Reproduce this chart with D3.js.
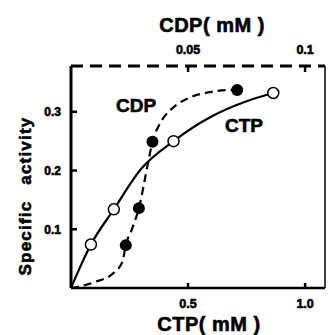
<!DOCTYPE html>
<html lang="en">
	<head>
		<meta charset="utf-8">
		<title>Specific activity vs CTP / CDP</title>
		<script type="text/javascript" src="https://d3js.org/d3.v7.min.js"></script>
		<style type="text/css">
			body { margin: 0; background: #fff; }
			text { font-family: "Liberation Sans", Arial, sans-serif; font-weight: bold; fill: #000; stroke: #000; stroke-width: 0.6px; }
		</style>
	</head>
	<body>
		<script type="text/javascript">

			// measured points (CTP in mM, CDP in mM)
			var ctpX = [0.085, 0.183, 0.438, 0.864];
			var ctpY = [0.074, 0.134, 0.250, 0.332];
			var cdpX = [0.0234, 0.029, 0.0348, 0.071];
			var cdpY = [0.073, 0.136, 0.249, 0.337];

			// fitted curves
			var ctpFitX = [0, 0.085, 0.183, 0.3, 0.438, 0.6, 0.75, 0.864];
			var ctpFitY = [0, 0.074, 0.134, 0.203, 0.250, 0.292, 0.318, 0.332];
			var cdpFitX = [0, 0.010, 0.018, 0.022, 0.0234, 0.026, 0.029, 0.033, 0.0348, 0.038, 0.043, 0.050, 0.060, 0.071];
			var cdpFitY = [0, 0.010, 0.025, 0.045, 0.073, 0.100, 0.136, 0.215, 0.249, 0.280, 0.305, 0.323, 0.334, 0.338];

			var bottomTicks = [0.5, 1.0];
			var bottomLabels = ["0.5", "1.0"];
			var topTicks = [0.05, 0.1];
			var topLabels = ["0.05", "0.1"];
			var yTicks = [0.1, 0.2, 0.3];
			var yLabels = ["0.1", "0.2", "0.3"];

			var w = 329;
			var h = 335;

			var x = d3.scaleLinear().domain([0, 1.085]).range([71, 325]);
			var xTop = d3.scaleLinear().domain([0, 0.1085]).range([71, 325]);
			var y = d3.scaleLinear().domain([0, 0.378]).range([288, 66]);

			var svg = d3.select("body")
						.append("svg")
						.attr("width", w)
						.attr("height", h);

			//frame
			svg.append("line")
			   .attr("x1", x(0)).attr("x2", x(0))
			   .attr("y1", y(0)).attr("y2", y.range()[1])
			   .attr("stroke", "#000").attr("stroke-width", 3);
			svg.append("line")
			   .attr("x1", x(0)).attr("x2", x.range()[1])
			   .attr("y1", y(0)).attr("y2", y(0))
			   .attr("stroke", "#000").attr("stroke-width", 2.5);
			svg.append("line")
			   .attr("x1", x.range()[1]).attr("x2", x.range()[1])
			   .attr("y1", y(0)).attr("y2", y.range()[1])
			   .attr("stroke", "#000").attr("stroke-width", 1.5);
			svg.append("line")
			   .attr("x1", x(0)).attr("x2", x.range()[1])
			   .attr("y1", y.range()[1]).attr("y2", y.range()[1])
			   .attr("stroke", "#000").attr("stroke-width", 3)
			   .attr("stroke-dasharray", "12,7");

			//ticks
			svg.selectAll(".yt")
			   .data(yTicks)
			   .enter()
			   .append("line")
			   .attr("x1", x(0)).attr("x2", x(0) + 6)
			   .attr("y1", function (d) { return y(d); })
			   .attr("y2", function (d) { return y(d); })
			   .attr("stroke", "#000").attr("stroke-width", 2.5);
			svg.selectAll(".bt")
			   .data(bottomTicks)
			   .enter()
			   .append("line")
			   .attr("x1", function (d) { return x(d); })
			   .attr("x2", function (d) { return x(d); })
			   .attr("y1", y(0)).attr("y2", y(0) - 5)
			   .attr("stroke", "#000").attr("stroke-width", 2.5);
			svg.selectAll(".tt")
			   .data(topTicks)
			   .enter()
			   .append("line")
			   .attr("x1", function (d) { return xTop(d); })
			   .attr("x2", function (d) { return xTop(d); })
			   .attr("y1", y.range()[1]).attr("y2", y.range()[1] + 6)
			   .attr("stroke", "#000").attr("stroke-width", 2.5);

			//tick labels
			svg.selectAll(".yl")
			   .data(yTicks)
			   .enter()
			   .append("text")
			   .attr("x", 61)
			   .attr("y", function (d) { return y(d) + 4.5; })
			   .attr("text-anchor", "end")
			   .style("font-size", "12px")
			   .text(function (d, i) { return yLabels[i]; });
			svg.selectAll(".bl")
			   .data(bottomTicks)
			   .enter()
			   .append("text")
			   .attr("x", function (d) { return x(d); })
			   .attr("y", 308)
			   .attr("text-anchor", "middle")
			   .style("font-size", "12.5px")
			   .text(function (d, i) { return bottomLabels[i]; });
			svg.selectAll(".tl")
			   .data(topTicks)
			   .enter()
			   .append("text")
			   .attr("x", function (d) { return xTop(d); })
			   .attr("y", 54)
			   .attr("text-anchor", "middle")
			   .style("font-size", "12.5px")
			   .text(function (d, i) { return topLabels[i]; });

			//axis titles
			svg.append("text")
			   .attr("x", 212).attr("y", 32)
			   .attr("text-anchor", "middle")
			   .style("font-size", "20px")
			   .style("letter-spacing", "0.5px")
			   .text("CDP( mM )");
			svg.append("text")
			   .attr("x", 209).attr("y", 331)
			   .attr("text-anchor", "middle")
			   .style("font-size", "20px")
			   .style("letter-spacing", "0.5px")
			   .text("CTP( mM )");
			svg.append("text")
			   .attr("transform", "translate(31,196) rotate(-90)")
			   .attr("text-anchor", "middle")
			   .style("font-size", "17px")
			   .style("letter-spacing", "1.2px")
			   .style("word-spacing", "10px")
			   .text("Specific activity");

			//curves
			var ctpLine = d3.line()
							.x(function (d) { return x(d[0]); })
							.y(function (d) { return y(d[1]); })
							.curve(d3.curveMonotoneX);
			var cdpLine = d3.line()
							.x(function (d) { return xTop(d[0]); })
							.y(function (d) { return y(d[1]); })
							.curve(d3.curveMonotoneX);

			svg.append("path")
			   .attr("d", ctpLine(d3.zip(ctpFitX, ctpFitY)))
			   .attr("fill", "none").attr("stroke", "#000").attr("stroke-width", 2.2);
			svg.append("path")
			   .attr("d", cdpLine(d3.zip(cdpFitX, cdpFitY)))
			   .attr("fill", "none").attr("stroke", "#000").attr("stroke-width", 2.2)
			   .attr("stroke-dasharray", "8,5");

			//points
			svg.selectAll(".ctp")
			   .data(d3.zip(ctpX, ctpY))
			   .enter()
			   .append("circle")
			   .attr("cx", function (d) { return x(d[0]); })
			   .attr("cy", function (d) { return y(d[1]); })
			   .attr("r", 5.5)
			   .attr("fill", "#fff").attr("stroke", "#000").attr("stroke-width", 1.5);
			svg.selectAll(".cdp")
			   .data(d3.zip(cdpX, cdpY))
			   .enter()
			   .append("circle")
			   .attr("cx", function (d) { return xTop(d[0]); })
			   .attr("cy", function (d) { return y(d[1]); })
			   .attr("r", 6)
			   .attr("fill", "#000");

			//series labels
			svg.append("text")
			   .attr("x", 136).attr("y", 112)
			   .attr("text-anchor", "middle")
			   .style("font-size", "19px")
			   .text("CDP");
			svg.append("text")
			   .attr("x", 244).attr("y", 132)
			   .attr("text-anchor", "middle")
			   .style("font-size", "19px")
			   .text("CTP");

		</script>
	</body>
</html>
